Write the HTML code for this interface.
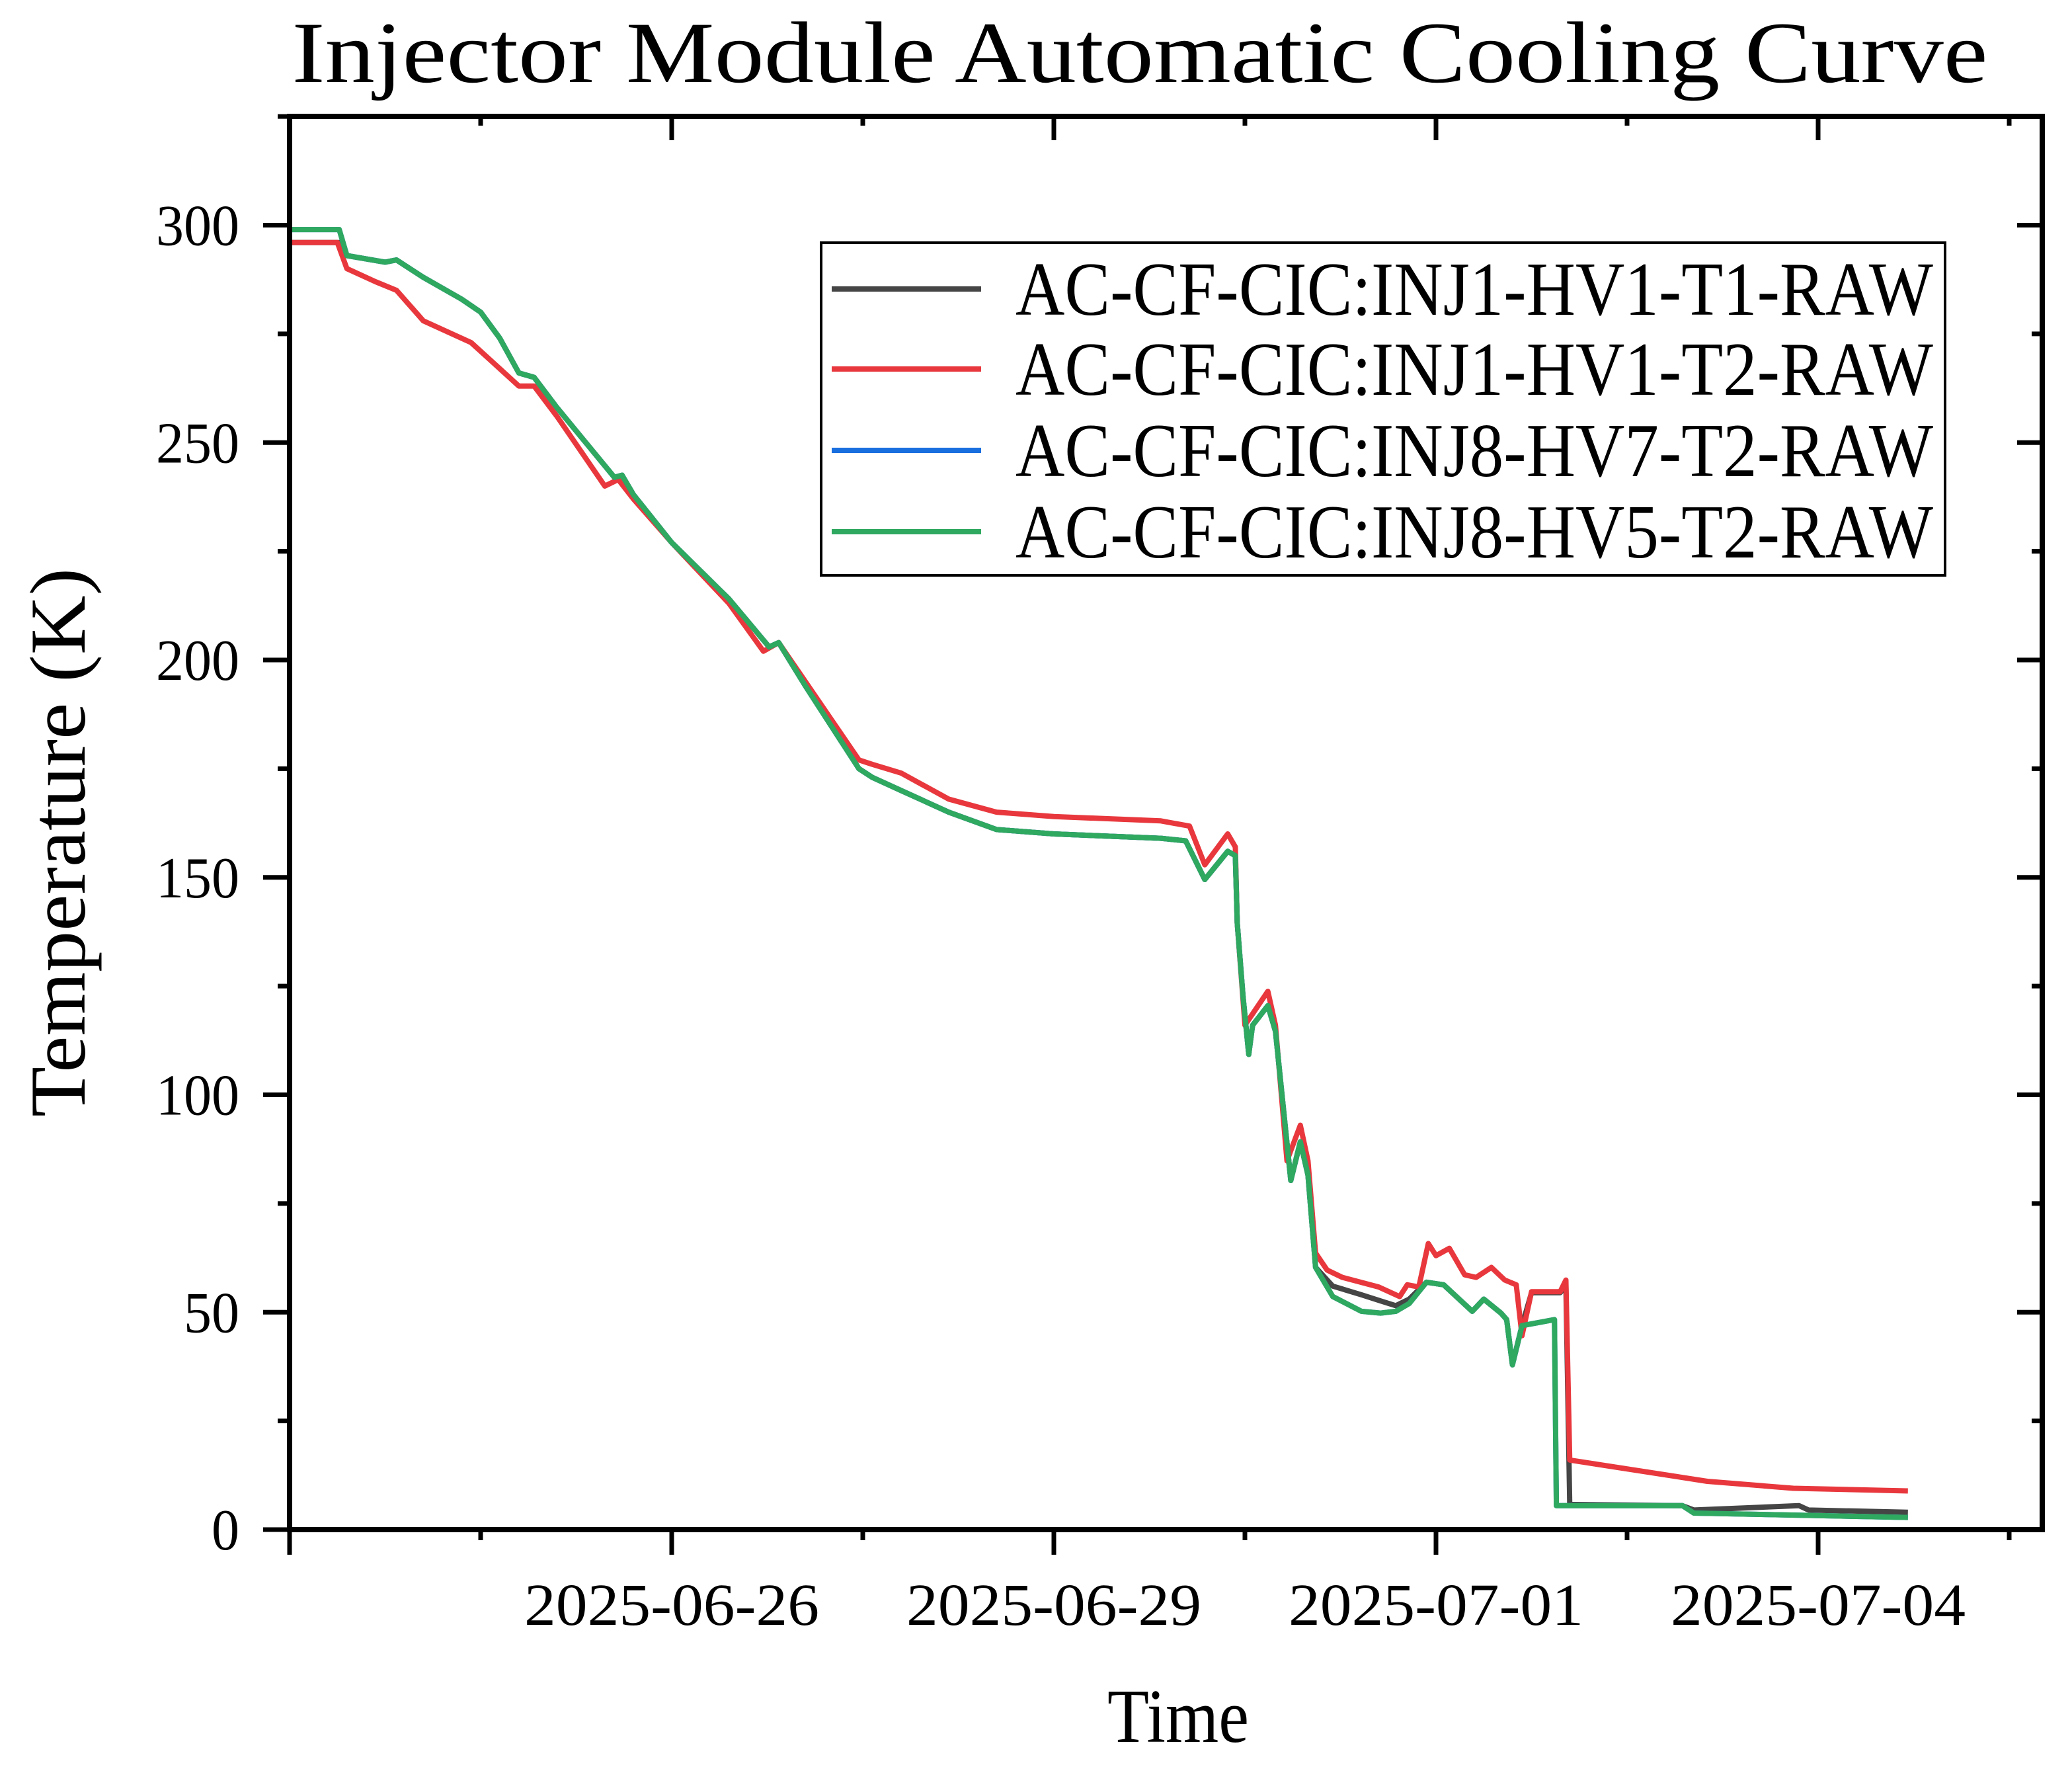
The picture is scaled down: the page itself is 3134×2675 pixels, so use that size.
<!DOCTYPE html>
<html><head><meta charset="utf-8">
<style>
html,body{margin:0;padding:0;background:#fff;}
svg{display:block;}
text{font-family:"Liberation Serif","Noto Serif CJK SC",serif;fill:#000;}
</style></head>
<body>
<svg id="chart" width="3134" height="2675" viewBox="0 0 3134 2675" xmlns="http://www.w3.org/2000/svg">
<rect x="0" y="0" width="3134" height="2675" fill="#fff"/>
<text x="1724" y="124" text-anchor="middle" font-size="132" textLength="2565" lengthAdjust="spacingAndGlyphs">Injector Module Automatic Cooling Curve</text>
<g id="series"></g>
<g id="axes"></g>
<text x="1782" y="2634" text-anchor="middle" font-size="116" textLength="214" lengthAdjust="spacingAndGlyphs">Time</text>
<text transform="translate(128,1274) rotate(-90)" text-anchor="middle" font-size="120" textLength="830" lengthAdjust="spacingAndGlyphs">Temperature (K)</text>
<g id="legend">
<rect x="1242" y="367" width="1700" height="503" fill="#fff" stroke="#000" stroke-width="4"/>
</g>
</svg>
<script>
const xTickVals=[2,4,6,8];
const xTickLabels=["2025-06-26","2025-06-29","2025-07-01","2025-07-04"];
const yTickVals=[0,50,100,150,200,250,300];
const seriesNames=["AC-CF-CIC:INJ1-HV1-T1-RAW","AC-CF-CIC:INJ1-HV1-T2-RAW","AC-CF-CIC:INJ8-HV7-T2-RAW","AC-CF-CIC:INJ8-HV5-T2-RAW"];
const seriesColors=["#454545","#e8383d","#1a6fdf","#2fa860"];
const greenX=[0,0.26,0.3,0.5,0.56,0.7,0.9,1.0,1.1,1.2,1.28,1.4,1.7,1.74,1.8,2.0,2.3,2.51,2.56,2.7,2.98,3.05,3.2,3.45,3.7,4.0,4.56,4.69,4.79,4.91,4.95,4.96,4.99,5.02,5.04,5.12,5.16,5.24,5.29,5.33,5.37,5.46,5.61,5.71,5.79,5.86,5.95,6.04,6.19,6.25,6.34,6.37,6.40,6.45,6.62,6.63,7.29,7.35,8.47];
const greenY=[299,299,293,291.5,292,288,283,280,274,266,265,258,242,242.5,238,227,214,203,204,194,175,173,170,165,161,160,159,158.4,149.5,156,155,139.5,122.7,109.3,116,120.5,114.6,80.3,89.2,81.5,60.3,53.6,50.2,49.8,50.2,52,56.9,56.3,50.2,53,49.8,48.3,37.9,46.9,48.3,5.5,5.5,3.8,2.8];
const blueY=greenY.slice();
const redX=[0,0.25,0.3,0.45,0.56,0.7,0.95,1.05,1.2,1.28,1.4,1.65,1.72,1.8,2.0,2.3,2.48,2.56,2.7,2.98,3.05,3.2,3.45,3.7,4.0,4.56,4.71,4.79,4.91,4.95,4.96,5.0,5.12,5.16,5.22,5.29,5.33,5.37,5.43,5.51,5.70,5.81,5.85,5.91,5.96,6.0,6.07,6.15,6.21,6.29,6.36,6.42,6.45,6.5,6.65,6.68,6.70,7.42,7.87,8.47];
const redY=[296,296,290,287,285,278,273,269,263,263,256,240,241.5,237,227,213,202,204,195,177,176,174,168,165,164,163,161.8,152.9,160,157,139.5,116,123.8,116,84.8,93,84.8,63.6,59.7,58,55.8,53.6,56.3,55.8,65.8,63,64.7,58.6,58,60.3,57.4,56.3,44.6,54.7,54.7,57.4,16,11.1,9.5,8.9];
const blackX=[0,0.26,0.3,0.5,0.56,0.7,0.9,1.0,1.1,1.2,1.28,1.4,1.7,1.74,1.8,2.0,2.3,2.51,2.56,2.7,2.98,3.05,3.2,3.45,3.7,4.0,4.56,4.69,4.79,4.91,4.95,4.96,4.99,5.02,5.04,5.12,5.16,5.24,5.29,5.33,5.37,5.46,5.61,5.71,5.79,5.86,5.95,6.04,6.19,6.25,6.34,6.37,6.40,6.45,6.5,6.65,6.68,6.70,7.29,7.35,7.9,7.95,8.47];
const blackY=[296,296,293,291.5,292,288,283,280,274,266,265,258,242,242.5,238,227,214,203,204,194,175,173,170,165,161,160,159,158.4,149.5,156,155,139.5,122.7,109.3,116,120.5,114.6,80.3,89.2,81.5,60.3,56,54,52.6,51.5,53,56.9,56.3,50.2,53,49.8,48.3,37.9,46.9,54.5,54.5,56,5.8,5.5,4.5,5.5,4.5,4];

const NS="http://www.w3.org/2000/svg";
const L=438,R=3089,T=176,B=2313;
const xMin=0,xMax=(R-L)/289,yMin=0,yMax=(B-T)/6.575;
function sx(v){return L+(v-xMin)/(xMax-xMin)*(R-L);}
function sy(v){return B-(v-yMin)/(yMax-yMin)*(B-T);}
function mk(tag,attrs,parent){const e=document.createElementNS(NS,tag);for(const k in attrs)e.setAttribute(k,attrs[k]);parent.appendChild(e);return e;}

const sg=document.getElementById('series');
const allX=[blackX,redX,greenX,greenX];
const allY=[blackY,redY,blueY,greenY];
const snames=['series-inj1-hv1-t1','series-inj1-hv1-t2','series-inj8-hv7-t2','series-inj8-hv5-t2'];
for(let s=0;s<4;s++){
  let d='';
  for(let i=0;i<allX[s].length;i++){d+=(i?'L':'M')+sx(allX[s][i]).toFixed(1)+','+sy(allY[s][i]).toFixed(1);}
  const p=mk('path',{d:d,fill:'none',stroke:seriesColors[s],'stroke-width':8,'stroke-linejoin':'round'},sg);
  
  
}

const ag=document.getElementById('axes');
const frame=mk('rect',{x:L,y:T,width:R-L,height:B-T,fill:'none',stroke:'#000','stroke-width':8},ag);


for(let v=0;v<=9;v++){
  const major=(v%2===0);
  const x=sx(v);
  const t1=mk('line',{x1:x,y1:B,x2:x,y2:B+(major?38:16),stroke:'#000','stroke-width':7},ag);
  
  
  const t2=mk('line',{x1:x,y1:T,x2:x,y2:T+(major?36:14),stroke:'#000','stroke-width':7},ag);
  
  
}
for(let i=0;i<xTickVals.length;i++){
  const t=mk('text',{x:sx(xTickVals[i]),y:2457,'text-anchor':'middle','font-size':90,textLength:446,lengthAdjust:'spacingAndGlyphs'},ag);
  t.textContent=xTickLabels[i];
  
  
}
for(let v=0;v<=325;v+=25){
  const major=(v%50===0);
  const y=sy(v);
  const a=mk('line',{x1:L,y1:y,x2:L-(major?40:18),y2:y,stroke:'#000','stroke-width':7},ag);
  
  
  const b=mk('line',{x1:R,y1:y,x2:R-(major?38:16),y2:y,stroke:'#000','stroke-width':7},ag);
  
  
}
for(let i=0;i<yTickVals.length;i++){
  const s=String(yTickVals[i]);
  const t=mk('text',{x:362,y:sy(yTickVals[i])+30,'text-anchor':'end','font-size':88,textLength:42*s.length,lengthAdjust:'spacingAndGlyphs'},ag);
  t.textContent=s;
  
  
}
const lg=document.getElementById('legend');
const ly=[437,558,681,804];
for(let i=0;i<4;i++){
  const ln=mk('line',{x1:1258,y1:ly[i],x2:1484,y2:ly[i],stroke:seriesColors[i],'stroke-width':8},lg);
  
  
  const t=mk('text',{x:1536,y:ly[i]+39,'font-size':115,textLength:1388,lengthAdjust:'spacingAndGlyphs'},lg);
  t.textContent=seriesNames[i];
  
  
}
</script>
</body></html>
